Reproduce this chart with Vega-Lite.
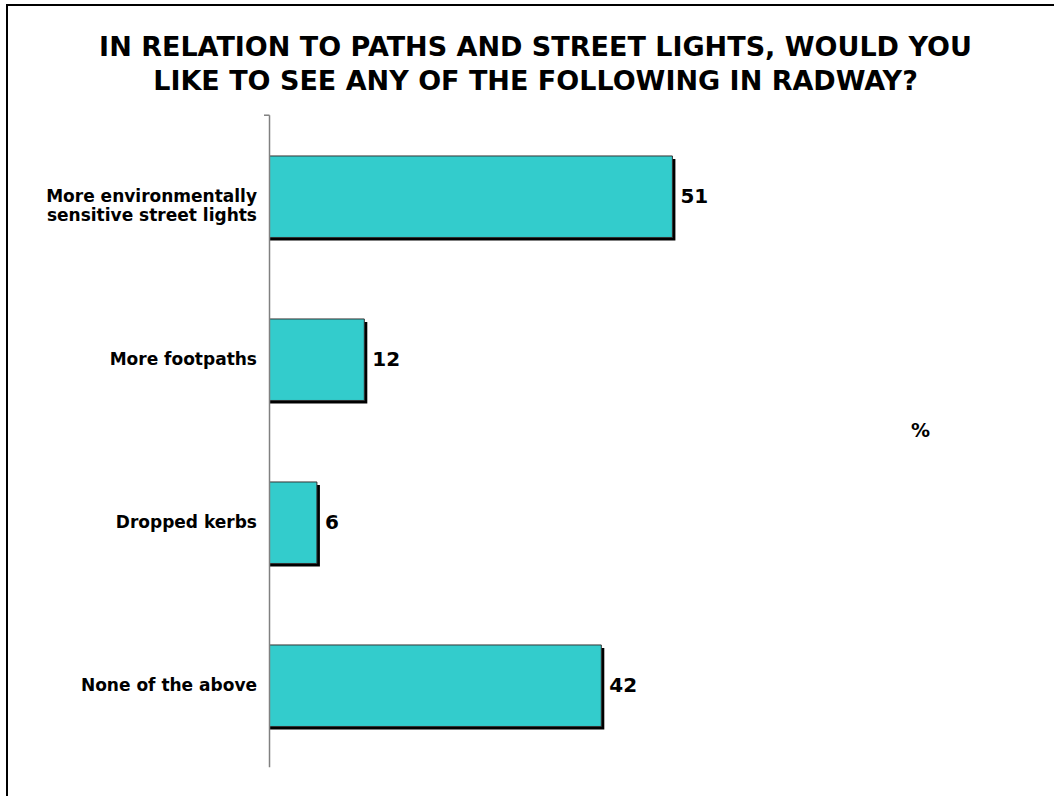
{
  "$schema": "https://vega.github.io/schema/vega-lite/v6.json",
  "width": 1057,
  "height": 801,
  "autosize": {"type": "none"},
  "padding": {"left": 7, "top": 5, "right": -10, "bottom": -10},
  "background": "white",
  "title": {
    "text": ["IN RELATION TO PATHS AND STREET LIGHTS, WOULD YOU", "LIKE TO SEE ANY OF THE FOLLOWING IN RADWAY?"],
    "anchor": "middle",
    "frame": "group",
    "fontSize": 27,
    "fontWeight": "bold",
    "font": "DejaVu Sans",
    "color": "black",
    "lineHeight": 34,
    "baseline": "top",
    "offset": -91
  },
  "data": {
    "values": [
      {"category": "More environmentally sensitive street lights", "value": 51},
      {"category": "More footpaths", "value": 12},
      {"category": "Dropped kerbs", "value": 6},
      {"category": "None of the above", "value": 42}
    ]
  },
  "layer": [
    {
      "mark": {"type": "bar", "color": "black", "xOffset": 3, "yOffset": 3},
      "encoding": {
        "y": {
          "field": "category",
          "type": "nominal",
          "sort": null,
          "scale": {
            "domain": ["More environmentally sensitive street lights", "More footpaths", "Dropped kerbs", "None of the above"],
            "paddingInner": 0.5,
            "paddingOuter": 0.707,
            "align": 0.655
          },
          "axis": {
            "title": null,
            "domain": false,
            "ticks": false,
            "grid": false,
            "offset": -262.5,
            "labelPadding": 13,
            "labelFontSize": 17,
            "labelFontWeight": "bold",
            "labelColor": "black",
            "labelFont": "DejaVu Sans",
            "labelLimit": 0,
            "labelLineHeight": 19,
            "labelExpr": "datum.label == 'More environmentally sensitive street lights' ? ['More environmentally', 'sensitive street lights'] : datum.label"
          }
        },
        "x": {
          "field": "value",
          "type": "quantitative",
          "scale": {"domain": [-33.23, 100.57], "nice": false, "zero": false},
          "axis": {
            "title": "%",
            "domain": false,
            "ticks": false,
            "labels": false,
            "grid": false,
            "titleX": 913,
            "titleY": -376,
            "titleFontSize": 19,
            "titleFontWeight": "bold",
            "titleFont": "DejaVu Sans",
            "titleColor": "black",
            "titleAlign": "center",
            "titleBaseline": "middle",
            "titleAngle": 0
          }
        },
        "x2": {"datum": 0}
      }
    },
    {
      "mark": {"type": "bar", "color": "#33CCCC", "stroke": "#333333", "strokeWidth": 1},
      "encoding": {
        "y": {"field": "category", "type": "nominal", "sort": null},
        "x": {"field": "value", "type": "quantitative"},
        "x2": {"datum": 0}
      }
    },
    {
      "mark": {"type": "text", "align": "left", "baseline": "middle", "dx": 8, "fontSize": 20, "fontWeight": "bold", "font": "DejaVu Sans", "color": "black"},
      "encoding": {
        "y": {"field": "category", "type": "nominal", "sort": null},
        "x": {"field": "value", "type": "quantitative"},
        "text": {"field": "value", "type": "quantitative"}
      }
    },
    {
      "data": {"values": [{}]},
      "mark": {"type": "rule", "color": "#808080", "strokeWidth": 1.5},
      "encoding": {
        "x": {"datum": 0},
        "y": {"datum": "More environmentally sensitive street lights", "bandPosition": -0.5},
        "y2": {"datum": "None of the above", "bandPosition": 1.5}
      }
    },
    {
      "data": {"values": [{}]},
      "mark": {"type": "rule", "color": "#808080", "strokeWidth": 1.5},
      "encoding": {
        "x": {"datum": -0.7},
        "x2": {"datum": 0},
        "y": {"datum": "More environmentally sensitive street lights", "bandPosition": -0.5}
      }
    }
  ],
  "config": {
    "view": {"stroke": "black", "strokeWidth": 2},
    "font": "DejaVu Sans"
  }
}
